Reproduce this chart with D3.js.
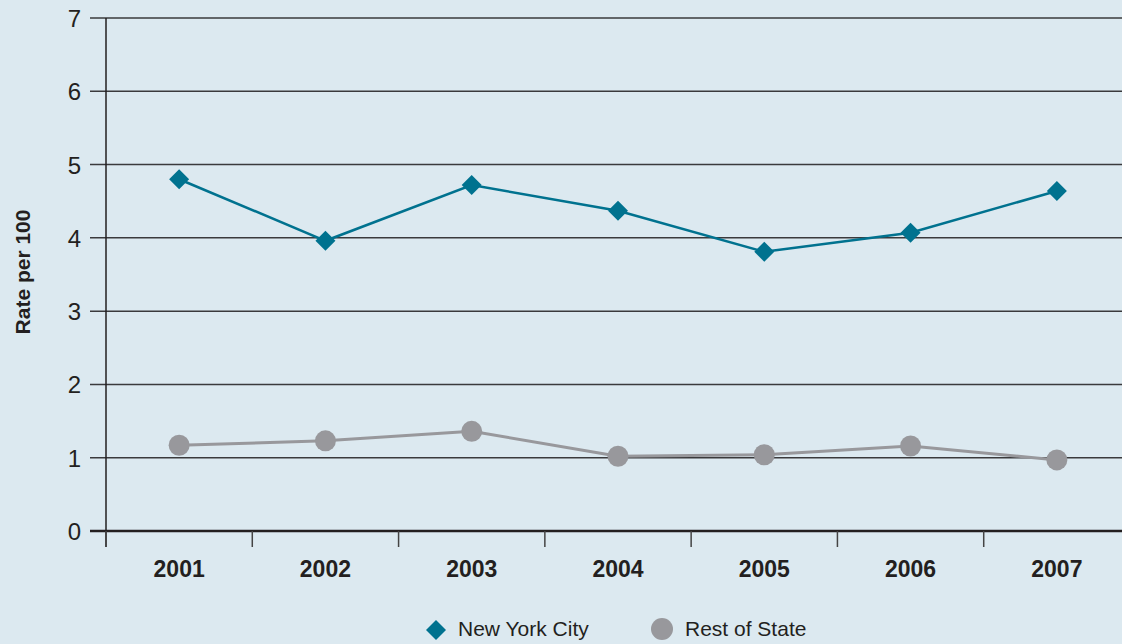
<!DOCTYPE html>
<html><head><meta charset="utf-8">
<script src="https://cdn.jsdelivr.net/npm/d3@7"></script>
<style>html,body{margin:0;padding:0;background:#dce9f0;overflow:hidden}</style>
</head><body>
<svg id="chart" width="1122" height="644"></svg>
<script>
const years = ["2001","2002","2003","2004","2005","2006","2007"];
const nycValues = [4.80, 3.96, 4.72, 4.37, 3.81, 4.07, 4.64];
const restValues = [1.17, 1.23, 1.36, 1.02, 1.04, 1.16, 0.97];
const yTicks = [0,1,2,3,4,5,6,7];
const seriesNames = ["New York City","Rest of State"];

(function(){
const svg = d3.select("#chart");
const W = 1122, H = 644;
const mLeft = 106, mTop = 18, mBottom = 531, mRight = 1130;
const navy = "#00728f", gray = "#98989c", dark = "#231f20";
const font = "'Liberation Sans', Arial, sans-serif";

svg.append("rect").attr("width",W).attr("height",H).attr("fill","#dce9f0");

const x = d3.scaleBand().domain(years).range([mLeft,mRight]).padding(0);
const y = d3.scaleLinear().domain([0,7]).range([mBottom,mTop]);

// gridlines
svg.append("g").selectAll("line").data(yTicks).join("line")
  .attr("x1",90).attr("x2",W)
  .attr("y1",d=>y(d)).attr("y2",d=>y(d))
  .attr("stroke",d=>d===0?dark:"#3a3a3c").attr("stroke-width",d=>d===0?2.5:1.5);

// y labels
svg.append("g").selectAll("text").data(yTicks).join("text")
  .attr("x",81).attr("y",d=>y(d)+9).attr("text-anchor","end")
  .attr("font-family",font).attr("font-size",24).attr("fill",dark).text(d=>d);

// y axis line
svg.append("line").attr("x1",mLeft).attr("x2",mLeft).attr("y1",mTop).attr("y2",mBottom+16)
  .attr("stroke",dark).attr("stroke-width",1.5);

// x ticks
const bounds = years.map(d=>x(d)).concat([mRight]);
svg.append("g").selectAll("line").data(bounds).join("line")
  .attr("x1",d=>d).attr("x2",d=>d).attr("y1",mBottom).attr("y2",mBottom+16)
  .attr("stroke","#444").attr("stroke-width",1.5);

svg.append("g").selectAll("text").data(years).join("text")
  .attr("x",d=>x(d)+x.bandwidth()/2).attr("y",577).attr("text-anchor","middle")
  .attr("font-family",font).attr("font-weight","bold").attr("font-size",23).attr("fill",dark).text(d=>d);

// y title
svg.append("text").attr("transform","translate(30,272) rotate(-90)").attr("text-anchor","middle")
  .attr("font-family",font).attr("font-weight","bold").attr("font-size",21).attr("fill",dark).text("Rate per 100");

const cx = (d,i)=>x(years[i])+x.bandwidth()/2;
const line = d3.line().x(cx).y(d=>y(d));

// Rest of State
svg.append("path").attr("d",line(restValues)).attr("fill","none").attr("stroke",gray).attr("stroke-width",3);
svg.append("g").selectAll("circle").data(restValues).join("circle")
  .attr("cx",cx).attr("cy",d=>y(d)).attr("r",10.5).attr("fill",gray);

// NYC
svg.append("path").attr("d",line(nycValues)).attr("fill","none").attr("stroke",navy).attr("stroke-width",2.5);
const diamond = s=>`M0,${-s}L${s},0L0,${s}L${-s},0Z`;
svg.append("g").selectAll("path").data(nycValues).join("path")
  .attr("transform",(d,i)=>`translate(${cx(d,i)},${y(d)})`).attr("d",diamond(10)).attr("fill",navy);

// legend
const lg = svg.append("g");
lg.append("path").attr("transform","translate(436,630)").attr("d",diamond(10)).attr("fill",navy);
lg.append("text").attr("x",458).attr("y",636).attr("font-family",font).attr("font-size",21).attr("fill",dark).text(seriesNames[0]);
lg.append("circle").attr("cx",662).attr("cy",629).attr("r",11).attr("fill",gray);
lg.append("text").attr("x",685).attr("y",636).attr("font-family",font).attr("font-size",21).attr("fill",dark).text(seriesNames[1]);
})();
</script>
</body></html>
